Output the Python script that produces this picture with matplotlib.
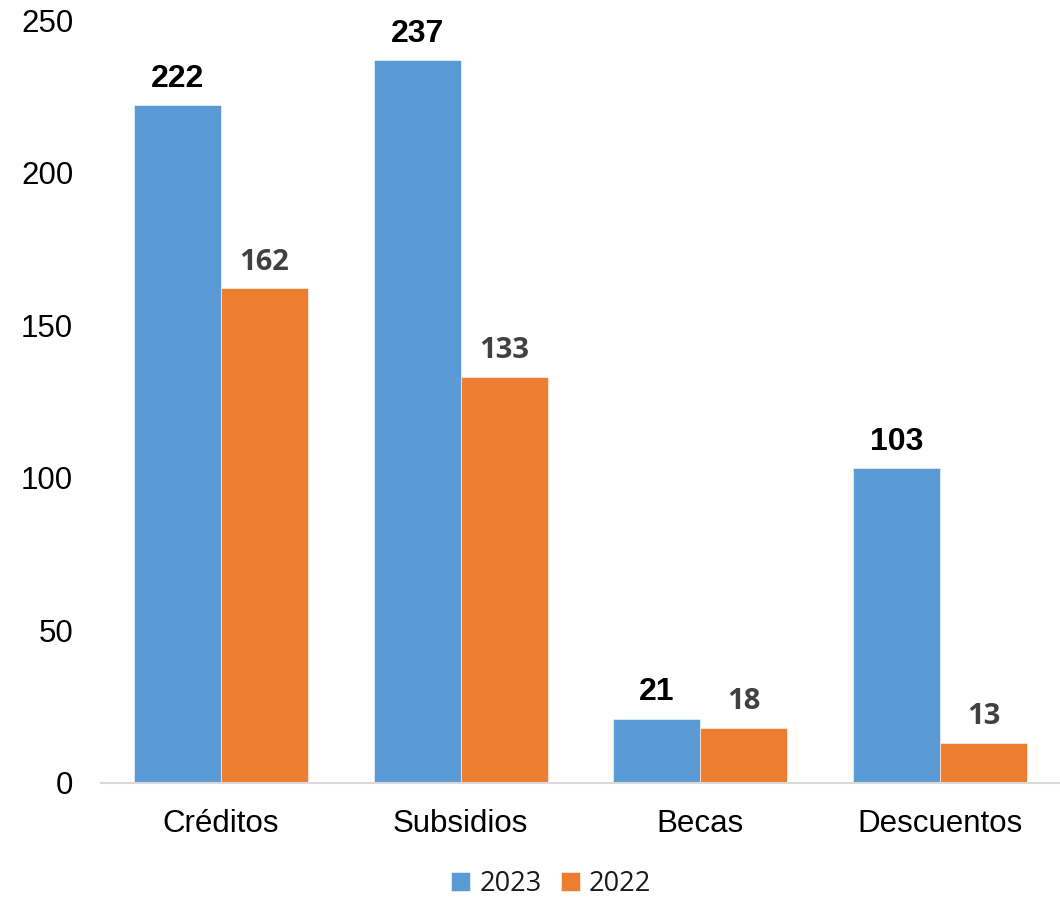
import matplotlib
matplotlib.use("Agg")
import matplotlib.pyplot as plt
import numpy as np

categories = ["Créditos", "Subsidios", "Becas", "Descuentos"]
values_2023 = [222, 237, 21, 103]
values_2022 = [162, 133, 18, 13]
series_labels = ["2023", "2022"]
y_ticks = [0, 50, 100, 150, 200, 250]

blue = "#5B9BD5"
orange = "#ED7D31"

fig = plt.figure(figsize=(10.6, 8.97), dpi=100)
ax = fig.add_axes([0.0953, 0.1275, 0.9047, 0.8502])

x = np.arange(len(categories))
w = 0.3625
b1 = ax.bar(x - w / 2, values_2023, width=w, color=blue, label=series_labels[0],
            edgecolor="white", linewidth=0.4)
b2 = ax.bar(x + w / 2, values_2022, width=w, color=orange, label=series_labels[1],
            edgecolor="white", linewidth=0.4)

for rect, v in zip(b1, values_2023):
    ax.annotate(str(v), (rect.get_x() + rect.get_width() / 2, v),
                xytext=(0, 8), textcoords="offset points", ha="center", va="bottom",
                fontsize=23, fontweight="bold", color="black", family="Liberation Sans")
for rect, v in zip(b2, values_2022):
    ax.annotate(str(v), (rect.get_x() + rect.get_width() / 2, v),
                xytext=(0, 8.5), textcoords="offset points", ha="center", va="bottom",
                fontsize=21, fontweight="bold", color="#404040", family="Open Sans")

ax.set_xlim(-0.5, 3.5)
ax.set_ylim(0, 250)
ax.set_yticks(y_ticks)
ax.set_xticks(x)
ax.set_xticklabels(categories)
for lab in ax.get_yticklabels() + ax.get_xticklabels():
    lab.set_fontfamily("Liberation Sans")
    lab.set_fontsize(22.5)
    lab.set_color("black")
ax.tick_params(axis="y", length=0, pad=20)
ax.tick_params(axis="x", length=0, pad=19)

for s in ["top", "right", "left"]:
    ax.spines[s].set_visible(False)
ax.spines["bottom"].set_color("#D9D9D9")
ax.spines["bottom"].set_linewidth(1.5)

leg = fig.legend(handles=[b1, b2], labels=series_labels, loc="center",
                 bbox_to_anchor=(0.52, 0.015), ncol=2, frameon=False,
                 prop={"family": "Open Sans", "size": 19.5},
                 handlelength=0.7, handleheight=0.7, handletextpad=0.35,
                 columnspacing=0.7)
for t in leg.get_texts():
    t.set_color("#1a1a1a")

fig.savefig("out.png", dpi=100)
